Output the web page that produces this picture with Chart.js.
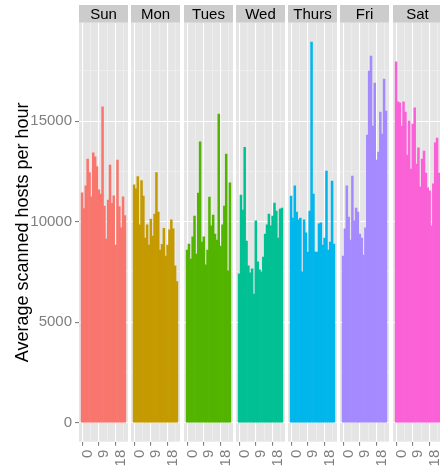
<!DOCTYPE html>
<html>
<head>
<meta charset="utf-8">
<script src="https://cdn.jsdelivr.net/npm/chart.js@4/dist/chart.umd.min.js"></script>
<style>
  body { margin: 0; background: #fff; width: 440px; height: 472px; overflow: hidden; position: relative; }
  canvas { position: absolute; top: 0; }
</style>
</head>
<body>
<script>
// facet labels and hours of the day
var days = ['Sun', 'Mon', 'Tues', 'Wed', 'Thurs', 'Fri', 'Sat'];
var hours = [0, 1, 2, 3, 4, 5, 6, 7, 8, 9, 10, 11, 12, 13, 14, 15, 16, 17, 18, 19, 20, 21, 22, 23];

// average scanned hosts per hour, one list per day
var sun   = [11440, 10650, 11780, 13120, 12440, 11240, 13430, 13230, 12740, 11580, 11380, 15720,
             10780, 9140, 11080, 12820, 10910, 11290, 8840, 13070, 10750, 9700, 11240, 10300];
var mon   = [11840, 11630, 12240, 9840, 12040, 11280, 9190, 9840, 8840, 10130, 9290, 10380,
             12440, 10480, 8590, 8880, 9670, 8290, 8840, 9590, 10090, 9640, 7800, 7020];
var tues  = [8590, 8890, 8140, 9250, 10280, 8390, 11430, 13980, 8990, 9250, 7850, 8590,
             11230, 9790, 10330, 9390, 9090, 15360, 8790, 9840, 10780, 13370, 7550, 11930];
var wed   = [7400, 11330, 10580, 13700, 9040, 7800, 7450, 7650, 6400, 10040, 8000, 7600,
             7500, 8240, 9390, 9840, 10380, 9790, 10280, 10930, 10530, 9190, 10630, 10680];
var thurs = [11280, 10180, 11780, 10480, 10090, 10180, 7500, 10090, 9440, 8490, 10530, 18940,
             11380, 8490, 8490, 9890, 9940, 8840, 9190, 12520, 8590, 8990, 12020, 8890];
var fri   = [8290, 9640, 11780, 10230, 9090, 12270, 10040, 10680, 10480, 9390, 9190, 8340,
             9690, 14310, 17500, 18240, 14760, 16900, 13070, 13470, 15460, 14360, 17100, 15510];
var sat   = [17950, 15960, 15910, 14760, 15960, 15460, 13320, 15010, 12620, 14860, 15660, 12870,
             13670, 11730, 13120, 13520, 12420, 11680, 11530, 9790, 11880, 13920, 14160, 12420];
var series = [sun, mon, tues, wed, thurs, fri, sat];

// axis breaks
var xTickLabels = [0, 9, 18];
var xMinorTicks = [4.5, 13.5, 22.5];
var yTickLabels = [0, 5000, 10000, 15000];
var yMinorTicks = [2500, 7500, 12500, 17500];

var colors = ['#F8766D', '#C49A00', '#53B400', '#00C094', '#00B6EB', '#A58AFF', '#FB61D7'];

var font = '"Liberation Sans", Arial, sans-serif';
var allVals = [].concat.apply([], series);
var top_ = Math.max.apply(null, allVals);
var yMin = -top_ * 0.05, yMax = top_ * 1.05;

var panelLeft = [79, 131, 184, 236, 288, 340, 393];
var panelW = 49;

// grey panel + strip on top
var panelPlugin = {
    id: 'panel',
    beforeDraw: function(chart) {
        var c = chart.ctx, a = chart.chartArea;
        c.save();
        c.fillStyle = '#E5E5E5';
        c.fillRect(a.left, a.top, a.right - a.left, a.bottom - a.top);
        c.fillStyle = '#CCCCCC';
        c.fillRect(a.left, 5, a.right - a.left, 17.7);
        c.fillStyle = '#000';
        c.font = '15px ' + font;
        c.textAlign = 'center';
        c.textBaseline = 'middle';
        c.fillText(chart.options.plugins.panel.label, (a.left + a.right) / 2, 14.5);
        c.restore();
    }
};

function isMajor(list, c) { return !!c.tick && list.indexOf(c.tick.value) >= 0; }

function makePanel(i) {
    var first = i === 0;
    var cv = document.createElement('canvas');
    cv.width = first ? panelLeft[0] + panelW : panelW;
    cv.height = 472;
    cv.style.left = (first ? 0 : panelLeft[i]) + 'px';
    document.body.appendChild(cv);

    new Chart(cv.getContext('2d'), {
        type: 'bar',
        data: {
            datasets: [{
                data: hours.map(function(h, k) { return { x: h, y: series[i][k] }; }),
                backgroundColor: colors[i],
                borderWidth: 0,
                barPercentage: 1,
                categoryPercentage: 1
            }]
        },
        options: {
            responsive: false,
            animation: false,
            layout: { padding: { top: 23, left: 0, right: 0, bottom: 0 } },
            plugins: {
                legend: { display: false },
                tooltip: { enabled: false },
                panel: { label: days[i] }
            },
            scales: {
                x: {
                    type: 'linear',
                    offset: false,
                    min: -1.65,
                    max: 24.65,
                    afterBuildTicks: function(s) {
                        s.ticks = xTickLabels.concat(xMinorTicks).sort(function(a, b) { return a - b; })
                            .map(function(v) { return { value: v }; });
                    },
                    afterFit: function(s) { s.height = 30.3; s.paddingLeft = 0; s.paddingRight = 0; },
                    border: { display: false },
                    grid: {
                        offset: false,
                        color: function(c) { return isMajor(xTickLabels, c) ? '#FFFFFF' : '#F2F2F2'; },
                        lineWidth: function(c) { return isMajor(xTickLabels, c) ? 1.1 : 0.6; },
                        tickLength: 4,
                        tickColor: function(c) { return isMajor(xTickLabels, c) ? '#7F7F7F' : 'rgba(0,0,0,0)'; }
                    },
                    ticks: {
                        autoSkip: false,
                        minRotation: 90,
                        maxRotation: 90,
                        padding: 4,
                        labelOffset: 5.5,
                        color: '#7F7F7F',
                        font: { size: 15, family: font },
                        callback: function(v) { return xTickLabels.indexOf(v) >= 0 ? String(v) : ''; }
                    }
                },
                y: {
                    min: yMin,
                    max: yMax,
                    afterBuildTicks: function(s) {
                        s.ticks = yTickLabels.concat(yMinorTicks).sort(function(a, b) { return a - b; })
                            .map(function(v) { return { value: v }; });
                    },
                    afterFit: function(s) { s.width = first ? panelLeft[0] : 0; s.paddingTop = 0; s.paddingBottom = 0; },
                    border: { display: false },
                    grid: {
                        color: function(c) { return isMajor(yTickLabels, c) ? '#FFFFFF' : '#F2F2F2'; },
                        lineWidth: function(c) { return isMajor(yTickLabels, c) ? 1.1 : 0.6; },
                        drawTicks: first,
                        tickLength: 4,
                        tickColor: function(c) { return isMajor(yTickLabels, c) ? '#7F7F7F' : 'rgba(0,0,0,0)'; }
                    },
                    ticks: {
                        display: first,
                        padding: 3,
                        color: '#7F7F7F',
                        font: { size: 15, family: font },
                        callback: function(v) { return yTickLabels.indexOf(v) >= 0 ? String(v) : ''; }
                    },
                    title: {
                        display: first,
                        text: 'Average scanned hosts per hour',
                        color: '#000',
                        font: { size: 18, family: font },
                        padding: { top: 12, bottom: 0 }
                    }
                }
            }
        },
        plugins: [panelPlugin]
    });
}

for (var i = 0; i < days.length; i++) makePanel(i);
</script>
</body>
</html>
